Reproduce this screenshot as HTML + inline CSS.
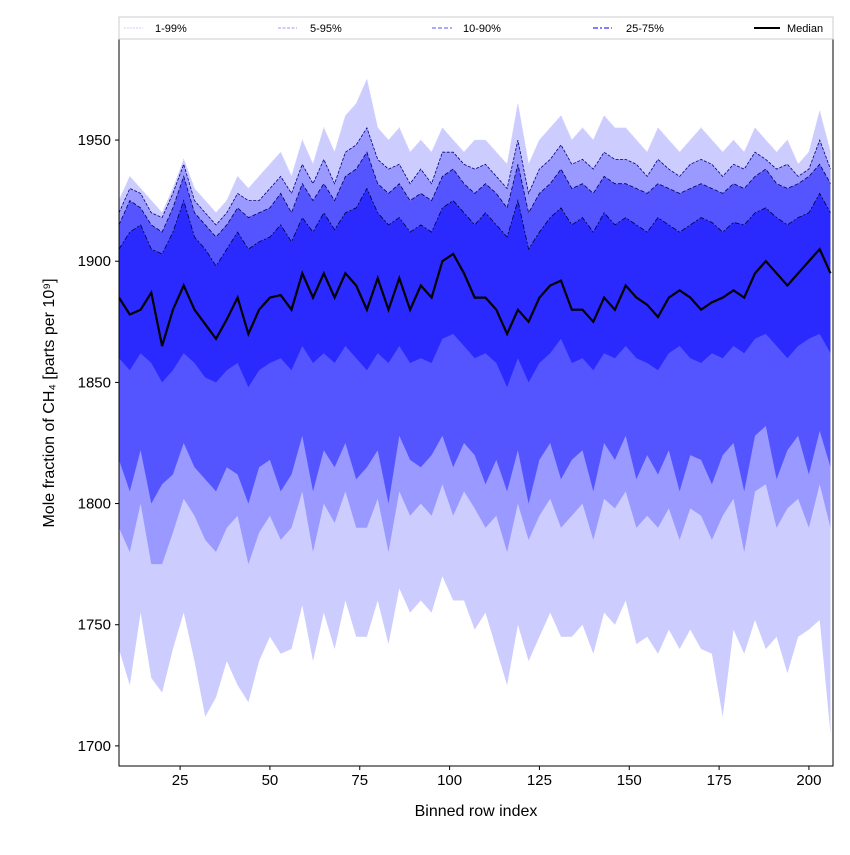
<!DOCTYPE html>
<html><head><meta charset="utf-8"><style>
body{margin:0;background:#fff;font-family:"Liberation Sans",sans-serif}
svg text{font-family:"Liberation Sans","DejaVu Sans",sans-serif}
</style></head><body>
<svg id="chart" width="850" height="850" xmlns="http://www.w3.org/2000/svg">
<rect width="850" height="850" fill="#fff"/>
<g id="bands"></g>
<g id="axes"></g>
<g>
<rect x="119" y="17" width="714" height="22" fill="#fff" stroke="#ccc" stroke-width="1"/>
<g><line x1="124" x2="143" y1="28" y2="28" stroke="#ccccff" stroke-width="1" stroke-dasharray="2,1"/><text x="155" y="32" font-size="11">1-99%</text></g>
<g><line x1="278" x2="297" y1="28" y2="28" stroke="#9999ff" stroke-width="1" stroke-dasharray="3,1.5"/><text x="310" y="32" font-size="11">5-95%</text></g>
<g><line x1="432" x2="452" y1="28" y2="28" stroke="#7777ff" stroke-width="1.3" stroke-dasharray="4,2"/><text x="463" y="32" font-size="11">10-90%</text></g>
<g><line x1="593" x2="612" y1="28" y2="28" stroke="#5555ff" stroke-width="1.6" stroke-dasharray="5,2,2,2"/><text x="626" y="32" font-size="11">25-75%</text></g>
<g><line x1="754" x2="780" y1="28" y2="28" stroke="#000" stroke-width="2"/><text x="787" y="32" font-size="11">Median</text></g>
</g>
</svg>
<script>
const median=[1885,1878,1880,1887,1865,1880,1890,1880,1874,1868,1876,1885,1870,1880,1885,1886,1880,1895,1885,1895,1885,1895,1890,1880,1893,1880,1893,1880,1890,1885,1900,1903,1895,1885,1885,1880,1870,1880,1875,1885,1890,1892,1880,1880,1875,1885,1880,1890,1885,1882,1877,1885,1888,1885,1880,1883,1885,1888,1885,1895,1900,1895,1890,1895,1900,1905,1895];
const p75=[1905,1912,1915,1905,1903,1912,1925,1910,1905,1898,1905,1912,1905,1908,1910,1915,1908,1918,1912,1920,1913,1920,1922,1930,1920,1915,1918,1912,1915,1912,1922,1925,1920,1915,1920,1915,1910,1925,1905,1912,1918,1922,1915,1918,1912,1920,1915,1918,1915,1912,1918,1915,1912,1915,1918,1916,1912,1916,1915,1920,1922,1918,1915,1918,1920,1928,1920];
const p90=[1915,1925,1922,1915,1912,1922,1935,1920,1915,1910,1915,1922,1918,1920,1922,1928,1920,1932,1925,1932,1925,1935,1938,1945,1932,1928,1932,1925,1928,1925,1935,1938,1932,1928,1932,1928,1922,1940,1920,1928,1932,1938,1930,1932,1928,1935,1932,1932,1930,1928,1932,1930,1928,1930,1932,1930,1928,1932,1930,1935,1938,1932,1930,1932,1935,1940,1932];
const p95=[1920,1930,1928,1920,1918,1928,1940,1925,1920,1915,1920,1928,1925,1925,1930,1935,1928,1940,1932,1942,1932,1945,1948,1955,1942,1938,1940,1932,1938,1932,1945,1945,1940,1938,1940,1935,1930,1950,1928,1938,1942,1948,1940,1942,1938,1945,1942,1942,1940,1935,1942,1938,1935,1940,1942,1940,1935,1940,1938,1945,1942,1938,1940,1935,1938,1950,1938];
const p99=[1925,1935,1930,1925,1920,1930,1942,1930,1925,1920,1925,1935,1930,1935,1940,1945,1935,1950,1940,1955,1945,1960,1965,1975,1955,1950,1955,1945,1950,1945,1955,1950,1945,1950,1950,1945,1940,1965,1940,1950,1955,1960,1950,1955,1950,1960,1955,1955,1950,1945,1955,1950,1945,1950,1955,1950,1945,1950,1945,1955,1950,1945,1950,1940,1945,1962,1945];
const p25=[1860,1855,1862,1858,1850,1855,1862,1858,1852,1850,1855,1858,1848,1855,1858,1860,1855,1865,1858,1862,1858,1865,1860,1855,1862,1858,1865,1858,1860,1858,1868,1870,1865,1860,1862,1858,1848,1860,1850,1858,1862,1868,1858,1860,1855,1862,1860,1865,1860,1858,1855,1862,1865,1860,1858,1862,1860,1865,1862,1868,1870,1865,1860,1865,1868,1870,1862];
const p10=[1818,1805,1822,1800,1808,1812,1825,1815,1810,1805,1815,1812,1800,1815,1818,1805,1812,1828,1805,1822,1815,1825,1810,1815,1822,1800,1828,1818,1815,1820,1828,1815,1825,1820,1808,1818,1805,1822,1800,1818,1825,1810,1818,1822,1805,1825,1818,1828,1810,1820,1812,1822,1805,1820,1818,1808,1820,1825,1805,1828,1832,1810,1822,1828,1812,1830,1815];
const p5=[1790,1780,1800,1775,1775,1788,1802,1795,1785,1780,1790,1795,1775,1788,1795,1785,1790,1805,1780,1800,1792,1805,1790,1790,1802,1780,1805,1795,1800,1795,1808,1795,1805,1798,1790,1795,1780,1800,1785,1795,1802,1790,1795,1800,1785,1802,1798,1805,1790,1795,1790,1798,1785,1798,1795,1785,1795,1802,1780,1805,1808,1790,1798,1802,1790,1808,1790];
const p1=[1740,1725,1755,1728,1722,1740,1755,1735,1712,1720,1735,1725,1718,1735,1745,1738,1740,1758,1735,1755,1740,1760,1745,1745,1760,1742,1765,1755,1760,1755,1770,1760,1760,1748,1755,1740,1725,1750,1735,1745,1755,1745,1745,1750,1738,1755,1750,1760,1742,1745,1738,1748,1740,1748,1740,1738,1712,1748,1738,1752,1740,1745,1730,1745,1748,1752,1705];
const rowIndex=median.map((_,i)=>8+3*i);
const xTicks=[25,50,75,100,125,150,175,200];
const yTicks=[1700,1750,1800,1850,1900,1950];

const L=119,R=833,T=39,B=766,xMin=8,xMax=206.7,yMin=1691.7,yMax=1991.7;
const X=v=>L+(v-xMin)/(xMax-xMin)*(R-L);
const Y=v=>B-(v-yMin)/(yMax-yMin)*(B-T);
const NS="http://www.w3.org/2000/svg";
const bands=document.getElementById('bands'),axes=document.getElementById('axes');
function mk(tag,attrs,parent){const e=document.createElementNS(NS,tag);for(const k in attrs)e.setAttribute(k,attrs[k]);parent.appendChild(e);return e;}
function pts(arr){return arr.map((v,i)=>X(rowIndex[i]).toFixed(1)+','+Y(v).toFixed(1));}
const clip=mk('clipPath',{id:'pc'},bands);mk('rect',{x:L,y:T,width:R-L,height:B-T},clip);
const g=mk('g',{'clip-path':'url(#pc)'},bands);
const defs=[[p1,p99,'#ccccff','band-1-99','#ccccff','1,1'],[p5,p95,'#9999ff','band-5-95','#000080','3,1.5'],[p10,p90,'#5555ff','band-10-90','#000060','4,2'],[p25,p75,'#2a2aff','band-25-75','#000040','5,2,2,2']];
defs.forEach(d=>{
  const poly=mk('polygon',{points:pts(d[1]).join(' ')+' '+pts(d[0]).reverse().join(' '),fill:d[2]},g);
  
  
});
defs.forEach(d=>{
  const up=mk('polyline',{points:pts(d[1]).join(' '),fill:'none',stroke:d[4],'stroke-width':0.8,'stroke-dasharray':d[5]},g);
  
  
});
const med=mk('polyline',{points:pts(median).join(' '),fill:'none',stroke:'#000','stroke-width':2.2},g);


const frame=mk('rect',{x:L,y:T,width:R-L,height:B-T,fill:'none',stroke:'#000','stroke-width':1},axes);


xTicks.forEach(t=>{
  mk('line',{x1:X(t),x2:X(t),y1:B,y2:B+4,stroke:'#000'},axes);
  const tx=mk('text',{x:X(t),y:B+19,'font-size':15,'text-anchor':'middle'},axes);tx.textContent=t;
  
  
});
yTicks.forEach(t=>{
  mk('line',{x1:L-4,x2:L,y1:Y(t),y2:Y(t),stroke:'#000'},axes);
  const tx=mk('text',{x:L-8,y:Y(t)+5,'font-size':15,'text-anchor':'end'},axes);tx.textContent=t;
  
  
});
const xt=mk('text',{x:(L+R)/2,y:816,'font-size':16,'text-anchor':'middle'},axes);xt.textContent='Binned row index';


const yt=mk('text',{x:0,y:0,'font-size':16,'text-anchor':'middle',transform:'translate(54,403) rotate(-90)'},axes);yt.textContent='Mole fraction of CH₄ [parts per 10⁹]';


</script>
</body></html>
